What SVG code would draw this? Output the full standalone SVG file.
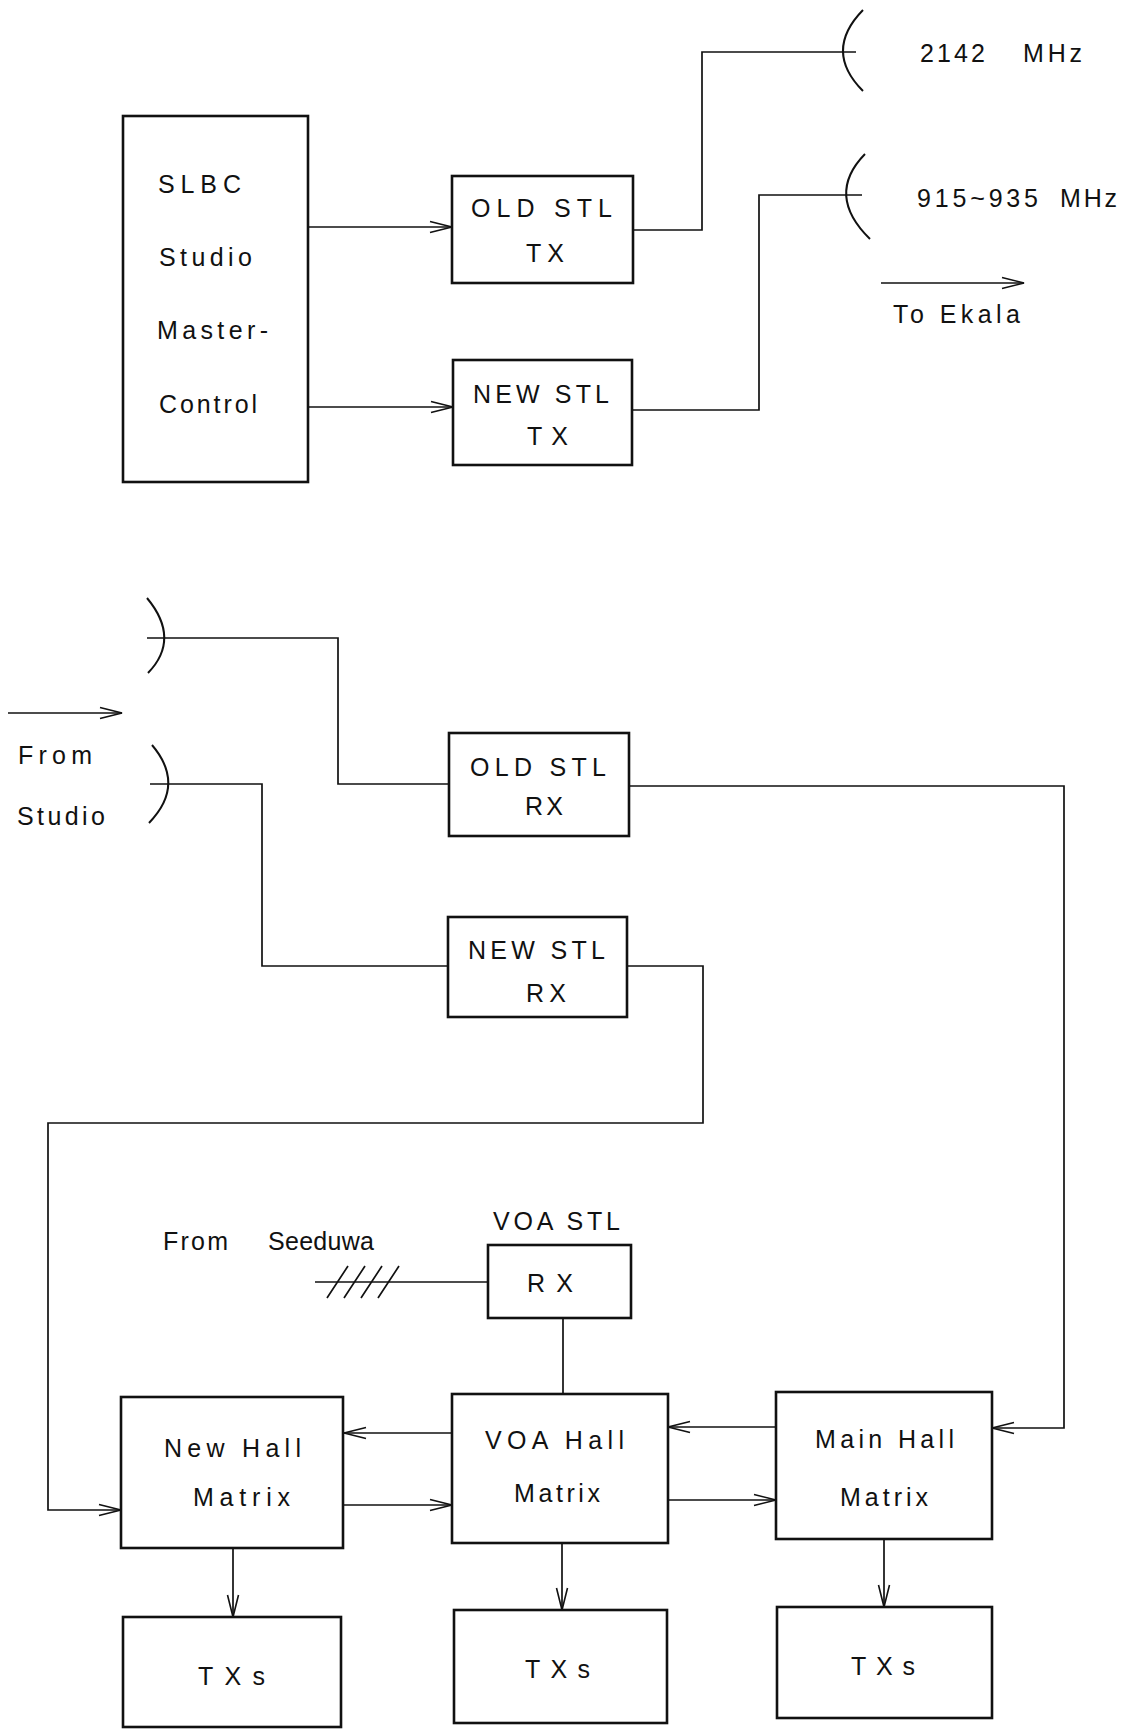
<svg xmlns="http://www.w3.org/2000/svg" width="1131" height="1729" viewBox="0 0 1131 1729">
<style>
.box{fill:none;stroke:#111;stroke-width:2.6}
.ln{fill:none;stroke:#111;stroke-width:1.7}
.arr{fill:none;stroke:#111;stroke-width:1.7;marker-end:url(#ah)}
.dish{fill:none;stroke:#111;stroke-width:2}
text{font-family:"Liberation Sans",Arial,sans-serif;font-size:25px;fill:#111}
</style>
<defs>
<marker id="ah" markerUnits="userSpaceOnUse" markerWidth="24" markerHeight="14" refX="23" refY="7" orient="auto">
<path d="M1,1.5 L23,7 L1,12.5" fill="none" stroke="#111" stroke-width="1.6"/>
</marker>
</defs>
<rect width="1131" height="1729" fill="#fff"/>

<g id="connectors">
<path class="arr" d="M308 227 H452"/>
<path class="arr" d="M308 407 H453"/>
<path class="ln" d="M633 230 H702 V52 H856"/>
<path class="ln" d="M632 410 H759 V195 H862"/>
<path class="arr" d="M881 283 H1024"/>
<path class="arr" d="M8 713 H122"/>
<path class="ln" d="M147 638 H338 V784 H449"/>
<path class="ln" d="M150 784 H262 V966 H448"/>
<path class="arr" d="M629 786 H1064 V1428 H992"/>
<path class="arr" d="M627 966 H703 V1123 H48 V1510 H121"/>
<path class="ln" d="M315 1282 H488"/>
<path class="ln" d="M327 1298 L348 1266 M344 1298 L365 1266 M361 1298 L382 1266 M378 1298 L399 1266"/>
<path class="ln" d="M563 1318 V1394"/>
<path class="arr" d="M452 1433 H344"/>
<path class="arr" d="M343 1505 H452"/>
<path class="arr" d="M776 1427 H668"/>
<path class="arr" d="M668 1500 H776"/>
<path class="arr" d="M233 1548 V1617"/>
<path class="arr" d="M562 1543 V1610"/>
<path class="arr" d="M884 1539 V1607"/>
</g>

<g id="slbc">
<rect class="box" x="123" y="116" width="185" height="366"/>
<text x="158" y="193" textLength="83" lengthAdjust="spacing">SLBC</text>
<text x="159" y="266" textLength="93" lengthAdjust="spacing">Studio</text>
<text x="157" y="339" textLength="111" lengthAdjust="spacing">Master-</text>
<text x="159" y="413" textLength="98" lengthAdjust="spacing">Control</text>
</g>

<g id="old-stl-tx">
<rect class="box" x="452" y="176" width="181" height="107"/>
<text x="471" y="217" textLength="141" lengthAdjust="spacing">OLD STL</text>
<text x="526" y="262" textLength="38" lengthAdjust="spacing">TX</text>
</g>

<g id="new-stl-tx">
<rect class="box" x="453" y="360" width="179" height="105"/>
<text x="473" y="403" textLength="136" lengthAdjust="spacing">NEW STL</text>
<text x="527" y="445" textLength="41" lengthAdjust="spacing">TX</text>
</g>

<g id="dish-2142">
<path class="dish" d="M863 10 Q823 51 863 91"/>
<text x="920" y="62" textLength="65" lengthAdjust="spacing">2142</text>
<text x="1023" y="62" textLength="59" lengthAdjust="spacing">MHz</text>
</g>

<g id="dish-915">
<path class="dish" d="M865 154 Q825 195 870 239"/>
<text x="917" y="207" textLength="121" lengthAdjust="spacing">915~935</text>
<text x="1060" y="207" textLength="57" lengthAdjust="spacing">MHz</text>
</g>

<g id="to-ekala">
<text x="893" y="323" textLength="127" lengthAdjust="spacing">To  Ekala</text>
</g>

<g id="dish-rx-old">
<path class="dish" d="M147 598 Q181 639 148 673"/>
</g>
<g id="dish-rx-new">
<path class="dish" d="M152 745 Q186 785 149 823"/>
</g>

<g id="from-studio">
<text x="18" y="764" textLength="74" lengthAdjust="spacing">From</text>
<text x="17" y="825" textLength="88" lengthAdjust="spacing">Studio</text>
</g>

<g id="old-stl-rx">
<rect class="box" x="449" y="733" width="180" height="103"/>
<text x="470" y="776" textLength="136" lengthAdjust="spacing">OLD STL</text>
<text x="525" y="815" textLength="38" lengthAdjust="spacing">RX</text>
</g>

<g id="new-stl-rx">
<rect class="box" x="448" y="917" width="179" height="100"/>
<text x="468" y="959" textLength="137" lengthAdjust="spacing">NEW STL</text>
<text x="526" y="1002" textLength="40" lengthAdjust="spacing">RX</text>
</g>

<g id="from-seeduwa">
<text x="163" y="1250" textLength="65" lengthAdjust="spacing">From</text>
<text x="268" y="1250" textLength="106" lengthAdjust="spacing">Seeduwa</text>
</g>

<g id="voa-stl-rx">
<text x="493" y="1230" textLength="127" lengthAdjust="spacing">VOA STL</text>
<rect class="box" x="488" y="1245" width="143" height="73"/>
<text x="527" y="1292" textLength="46" lengthAdjust="spacing">RX</text>
</g>

<g id="new-hall">
<rect class="box" x="121" y="1397" width="222" height="151"/>
<text x="164" y="1457" textLength="137" lengthAdjust="spacing">New  Hall</text>
<text x="193" y="1506" textLength="97" lengthAdjust="spacing">Matrix</text>
</g>

<g id="voa-hall">
<rect class="box" x="452" y="1394" width="216" height="149"/>
<text x="485" y="1449" textLength="139" lengthAdjust="spacing">VOA  Hall</text>
<text x="514" y="1502" textLength="86" lengthAdjust="spacing">Matrix</text>
</g>

<g id="main-hall">
<rect class="box" x="776" y="1392" width="216" height="147"/>
<text x="815" y="1448" textLength="139" lengthAdjust="spacing">Main  Hall</text>
<text x="840" y="1506" textLength="88" lengthAdjust="spacing">Matrix</text>
</g>

<g id="txs-new">
<rect class="box" x="123" y="1617" width="218" height="110"/>
<text x="198" y="1685" textLength="67" lengthAdjust="spacing">TXs</text>
</g>
<g id="txs-voa">
<rect class="box" x="454" y="1610" width="213" height="113"/>
<text x="525" y="1678" textLength="65" lengthAdjust="spacing">TXs</text>
</g>
<g id="txs-main">
<rect class="box" x="777" y="1607" width="215" height="111"/>
<text x="851" y="1675" textLength="64" lengthAdjust="spacing">TXs</text>
</g>
</svg>
